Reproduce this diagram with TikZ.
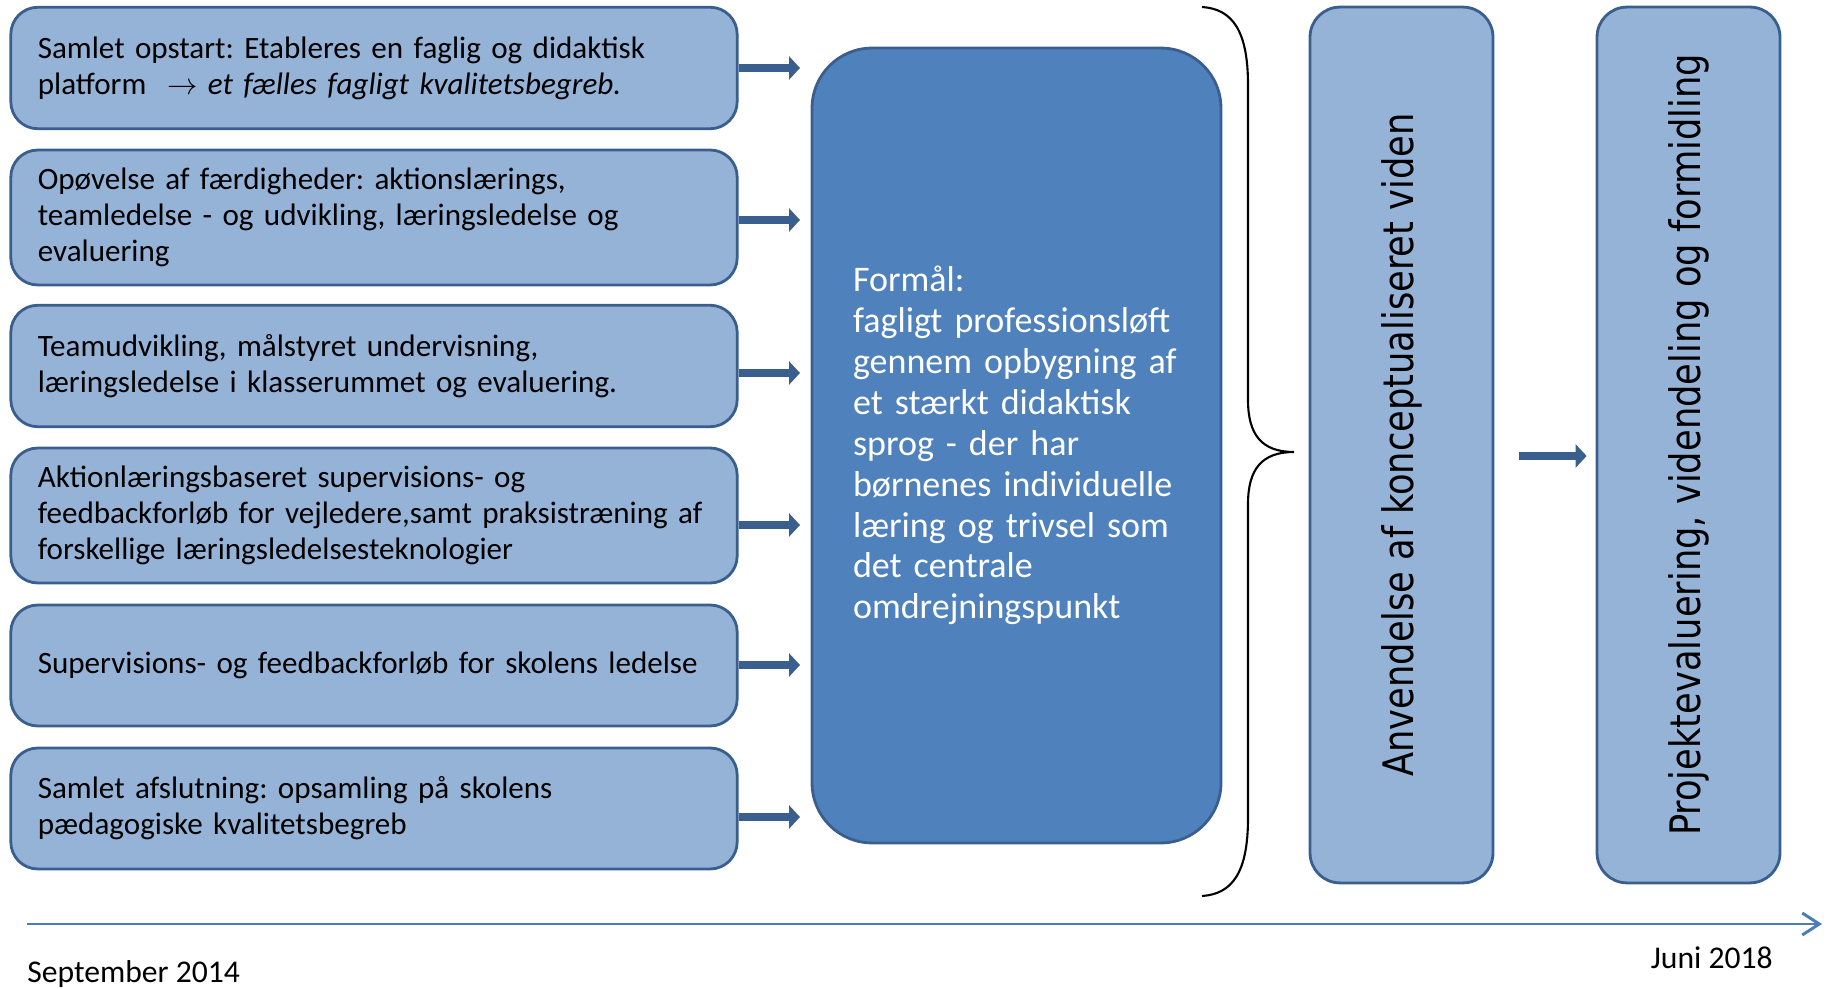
\documentclass[tikz,border=0pt]{standalone}
\usepackage{fontspec}
\setmainfont{Carlito}
\newfontfamily\wideface{DejaVu Sans}
\usetikzlibrary{arrows.meta,positioning}
\definecolor{lightblue}{HTML}{95B3D7}
\definecolor{midblue}{HTML}{4F81BD}
\definecolor{darkblue}{HTML}{3A5F8E}
\definecolor{lineblue}{HTML}{4A7EBB}
\frenchspacing
\begin{document}
\begin{tikzpicture}[x=0.02cm, y=-0.02cm,
    activity/.style ={rectangle, rounded corners=0.54cm, draw=darkblue, fill=lightblue, line width=1.6pt,
        minimum width=14.53cm, text width=13.45cm, inner xsep=0.54cm, align=left,
        font=\fontsize{17.7}{20.5}\selectfont},
    purpose/.style ={rectangle, rounded corners=1.2cm, draw=darkblue, fill=midblue, line width=1.6pt,
        text=white, minimum width=8.18cm, minimum height=15.9cm, text width=6.54cm, inner xsep=0.82cm,
        align=left, font=\fontsize{20.5}{23.3}\selectfont},
    phase/.style ={rectangle, rounded corners=0.6cm, draw=darkblue, fill=lightblue, line width=1.6pt,
        minimum width=3.66cm, minimum height=17.52cm, inner sep=0pt, font=\wideface\fontsize{23.9}{28}\selectfont},
    flow/.style ={draw=darkblue, line width=0.16cm, -{Triangle[length=0.22cm,width=0.46cm]}},
    timeline/.style ={draw=lineblue, line width=1.7pt, -{Straight Barb[length=0.34cm,width=0.44cm]}},
    datelabel/.style ={inner sep=0pt, font=\fontsize{18}{20.5}\selectfont}]
   \useasboundingbox (0,0) rectangle (1832,989);
   \node[activity, minimum height=2.43cm] (b1) at (374,68)
      {Samlet opstart: Etableres en  faglig og didaktisk\\ platform ~$\rightarrow$ \textit{et fælles fagligt kvalitetsbegreb.}};
   \node[activity, minimum height=2.7cm] (b2) at (374,217.5)
      {Opøvelse af færdigheder: aktionslærings,\\ teamledelse - og udvikling, læringsledelse  og\\ evaluering};
   \node[activity, minimum height=2.43cm] (b3) at (374,366)
      {Teamudvikling, målstyret undervisning,\\ læringsledelse i klasserummet og evaluering.};
   \node[activity, minimum height=2.7cm] (b4) at (374,515.5)
      {Aktionlæringsbaseret supervisions- og\\ \mbox{feedbackforløb for vejledere,samt praksistræning af}\\ forskellige læringsledelsesteknologier};
   \node[activity, minimum height=2.42cm] (b5) at (374,665.5)
      {Supervisions- og feedbackforløb for skolens ledelse};
   \node[activity, minimum height=2.42cm] (b6) at (374,808.5)
      {Samlet afslutning: opsamling på skolens\\ pædagogiske kvalitetsbegreb};
   \node[purpose] (aim) at (1016.5,445.5)
      {Formål:\\ fagligt professionsløft\\ gennem opbygning af\\ et stærkt didaktisk\\ sprog - der har\\
       børnenes individuelle\\ læring og trivsel som\\ det centrale\\ omdrejningspunkt};
   \node[phase] (use) at (1401.5,445)
      {\rotatebox{90}{\scalebox{0.84}[1]{Anvendelse af konceptualiseret viden}}};
   \node[phase] (eval) at (1688.5,445)
      {\rotatebox{90}{\scalebox{0.84}[1]{Projektevaluering, videndeling og formidling}}};
   \coordinate (in1) at (800,68);
   \coordinate (in2) at (800,220);
   \coordinate (in3) at (800,373);
   \coordinate (in4) at (800,525);
   \coordinate (in5) at (800,665);
   \coordinate (in6) at (800,817);
   \draw[flow] (b1.east |- in1) -- (in1);
   \draw[flow] (b2.east |- in2) -- (in2);
   \draw[flow] (b3.east |- in3) -- (in3);
   \draw[flow] (b4.east |- in4) -- (in4);
   \draw[flow] (b5.east |- in5) -- (in5);
   \draw[flow] (b6.east |- in6) -- (in6);
   \draw[flow, shorten <=0.5cm, shorten >=0.18cm] ([yshift=-0.22cm]use.east) -- ([yshift=-0.22cm]eval.west);
   \draw[line width=1.2pt] (1202,7) .. controls (1232,9) and (1248,30) .. (1248,85) -- (1248,400)
      .. controls (1248,435) and (1262,452) .. (1294,452)
      .. controls (1262,452) and (1248,469) .. (1248,504) -- (1248,818)
      .. controls (1248,873) and (1232,894) .. (1202,896);
   \coordinate (t0) at (27,924);
   \coordinate (t1) at (1822,924);
   \draw[timeline] (t0) -- (t1);
   \node[datelabel, anchor=base west] (start) at (27,982) {September 2014};
   \node[datelabel, anchor=base east] (finish) at (1773,968) {Juni 2018};
\end{tikzpicture}
\end{document}
